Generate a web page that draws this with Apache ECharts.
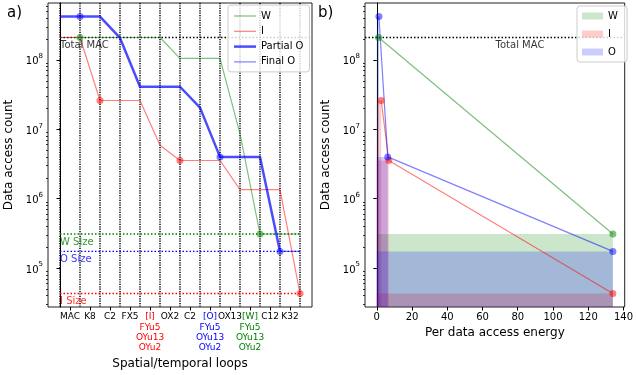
<!DOCTYPE html>
<html>
<head>
<meta charset="utf-8">
<script src="https://cdn.jsdelivr.net/npm/echarts@6/dist/echarts.min.js"></script>
<style>
  html, body { margin: 0; padding: 0; background: #fff; }
  #chart { width: 636px; height: 375px; }
</style>
</head>
<body>
<div id="chart"></div>
<script>
// ---- left panel: loop boundaries 0..12, labels sit between them
var loopLabels = ['MAC', 'K8', 'C2', 'FX5', '[I]\nFYu5\nOYu13\nOYu2', 'OX2', 'C2',
                  '[O]\nFYu5\nOYu13\nOYu2', 'OX13', '[W]\nFYu5\nOYu13\nOYu2', 'C12', 'K32'];
var loopLabelColors = ['#000', '#000', '#000', '#000', '#ff0000', '#000', '#000',
                       '#0000ff', '#000', '#008000', '#000', '#000'];

var wCount   = [2.1e8, 2.1e8, 2.1e8, 2.1e8, 2.1e8, 2.1e8, 1.05e8, 1.05e8, 1.05e8, 8.6e6, 3.1e5, 3.1e5, 3.1e5];
var iCount   = [2.1e8, 2.1e8, 2.6e7, 2.6e7, 2.6e7, 5.9e6, 3.55e6, 3.55e6, 3.55e6, 1.35e6, 1.35e6, 1.35e6, 4.3e4];
var partialO = [4.2e8, 4.2e8, 4.2e8, 2.07e8, 4.1e7, 4.1e7, 4.1e7, 2.05e7, 4.0e6, 4.0e6, 4.0e6, 1.74e5];
var finalOIdx = [11, 12];
var finalO   = [1.74e5, 1.74e5];

var wMarkIdx = [1, 10];
var iMarkIdx = [2, 6, 12];
var oMarkIdx = [1, 8, 11];

var totalMAC = 2.1e8;
var wSize = 3.1e5;
var oSize = 1.74e5;
var iSize = 4.3e4;

// ---- right panel: per data access energy of each level
var wEnergy = [1.0, 134];
var iEnergy = [2.5, 6.8, 134];
var oEnergy = [1.2, 6.2, 134];

// axis ranges / ticks
var yMin = 2.75e4, yMax = 6.6e8;
var yMajor = [1e5, 1e6, 1e7, 1e8];
var yMinor = [];
for (var d = 4; d <= 8; d++) {
  for (var m = 2; m <= 9; m++) {
    var v = m * Math.pow(10, d);
    if (v > yMin && v < yMax) yMinor.push(v);
  }
}
var xEnergyTicks = [0, 20, 40, 60, 80, 100, 120, 140];

var FONT = 'DejaVu Sans';
var GREEN = 'rgba(0,128,0,0.5)', RED = 'rgba(255,0,0,0.5)', BLUE = 'rgba(0,0,255,0.5)';
var BLUE_THICK = 'rgba(0,0,255,0.7)';

function pairs(xs, ys) {
  return xs.map(function (x, k) { return [x, ys[k]]; });
}
function idxPairs(ys) {
  return ys.map(function (y, k) { return [k, y]; });
}
function marks(idx, ys) {
  return idx.map(function (k) { return [k, ys[k]]; });
}
var wRight = marks(wMarkIdx, wCount).map(function (p, k) { return [wEnergy[k], p[1]]; });
var iRight = marks(iMarkIdx, iCount).map(function (p, k) { return [iEnergy[k], p[1]]; });
var oRight = marks(oMarkIdx, partialO).map(function (p, k) { return [oEnergy[k], p[1]]; });

function logAxes(gridIndex, name) {
  var major = {
    type: 'log', gridIndex: gridIndex, position: 'left', min: yMin, max: yMax, logBase: 10,
    name: name, nameLocation: 'middle', nameGap: 33,
    nameTextStyle: { fontFamily: FONT, fontSize: 12, color: '#000' },
    axisLine: { show: true, lineStyle: { color: '#000', width: 1 } },
    axisTick: { show: true, length: 3.5, lineStyle: { color: '#000' }, customValues: yMajor },
    axisLabel: {
      customValues: yMajor, margin: 5, color: '#000', fontFamily: FONT,
      formatter: function (v) { return '{b|10}{s|' + Math.round(Math.log10(v)) + '}'; },
      rich: {
        b: { fontFamily: FONT, fontSize: 10, color: '#000', lineHeight: 14, verticalAlign: 'bottom' },
        s: { fontFamily: FONT, fontSize: 7, color: '#000', lineHeight: 14, verticalAlign: 'top', padding: [0, 0, 5, 0] }
      }
    },
    splitLine: { show: false }, minorTick: { show: false }
  };
  var minor = {
    type: 'log', gridIndex: gridIndex, position: 'left', offset: 0, min: yMin, max: yMax, logBase: 10,
    axisLine: { show: false },
    axisTick: { show: true, length: 2, lineStyle: { color: '#000', width: 0.8 }, customValues: yMinor },
    axisLabel: { show: false, customValues: yMinor },
    splitLine: { show: false }
  };
  return [major, minor];
}

var leftY = logAxes(0, 'Data access count');
var rightY = logAxes(2, 'Data access count');

function textPoint(xAxisIndex, yAxisIndex, x, y, text, color) {
  return {
    type: 'scatter', xAxisIndex: xAxisIndex, yAxisIndex: yAxisIndex, symbolSize: 0, silent: true, z: 6,
    data: [[x, y]],
    label: { show: true, formatter: text, position: [0, 3], align: 'left', verticalAlign: 'top',
             fontFamily: FONT, fontSize: 10, color: color }
  };
}

function shadeItem(color) {
  return function (params, api) {
    var base = api.coord([0, yMin]);
    var top = api.coord([api.value(0), api.value(1)]);
    return {
      type: 'rect',
      shape: { x: base[0], y: top[1], width: top[0] - base[0], height: base[1] - top[1] },
      style: { fill: color }
    };
  };
}

var option = {
  animation: false,
  backgroundColor: '#fff',
  textStyle: { fontFamily: FONT },
  grid: [
    { left: 48, top: 3, width: 264, height: 304, show: true, borderColor: '#222', borderWidth: 1, backgroundColor: 'transparent', containLabel: false },
    { left: 60, top: 3, width: 240, height: 304, show: false, containLabel: false },
    { left: 365, top: 3, width: 263, height: 304, show: true, borderColor: '#222', borderWidth: 1, backgroundColor: 'transparent', containLabel: false }
  ],
  xAxis: [
    { type: 'value', gridIndex: 0, min: -0.6, max: 12.6,
      axisLine: { show: false }, axisTick: { show: false }, axisLabel: { show: false }, splitLine: { show: false } },
    { type: 'category', gridIndex: 1, data: loopLabels.map(function (t, k) {
        return { value: t, textStyle: { color: loopLabelColors[k] } };
      }),
      name: 'Spatial/temporal loops', nameLocation: 'middle', nameGap: 50,
      nameTextStyle: { fontFamily: FONT, fontSize: 12, color: '#000' },
      axisLine: { show: false },
      axisTick: { show: true, alignWithLabel: true, length: 3.5, lineStyle: { color: '#000' } },
      axisLabel: { interval: 0, margin: 5, fontFamily: FONT, fontSize: 9, lineHeight: 10.3, verticalAlign: 'top', hideOverlap: false },
      splitLine: { show: true, lineStyle: { color: '#000', width: 1.5, type: [1.2, 1.2] } } },
    { type: 'value', gridIndex: 2, min: -6.7, max: 140.7,
      name: 'Per data access energy', nameLocation: 'middle', nameGap: 19,
      nameTextStyle: { fontFamily: FONT, fontSize: 12, color: '#000' },
      axisLine: { show: false },
      axisTick: { show: true, length: 3.5, lineStyle: { color: '#000' }, customValues: xEnergyTicks },
      axisLabel: { customValues: xEnergyTicks, margin: 5, fontFamily: FONT, fontSize: 10, color: '#000' },
      splitLine: { show: false } }
  ],
  yAxis: [
    leftY[0], leftY[1],
    { type: 'value', gridIndex: 1, show: false },
    rightY[0], rightY[1]
  ],
  legend: [
    { orient: 'vertical', left: 228, top: 5, padding: [6, 6, 5, 6], itemWidth: 22, itemHeight: 10, itemGap: 5.3,
      backgroundColor: 'rgba(255,255,255,0.8)', borderColor: '#ccc', borderWidth: 1, borderRadius: 3,
      textStyle: { fontFamily: FONT, fontSize: 10, color: '#000' }, symbolKeepAspect: true,
      data: [
        { name: 'W', icon: 'path://M0,0H22V1.2H0Z', itemStyle: { color: GREEN } },
        { name: 'I', icon: 'path://M0,0H22V1.2H0Z', itemStyle: { color: RED } },
        { name: 'Partial O', icon: 'path://M0,0H22V2.5H0Z', itemStyle: { color: BLUE_THICK } },
        { name: 'Final O', icon: 'path://M0,0H22V1.2H0Z', itemStyle: { color: BLUE } }
      ] },
    { orient: 'vertical', left: 577, top: 6, padding: [5, 6, 5, 5], itemWidth: 21, itemHeight: 7, itemGap: 8,
      backgroundColor: 'rgba(255,255,255,0.8)', borderColor: '#ccc', borderWidth: 1, borderRadius: 3,
      textStyle: { fontFamily: FONT, fontSize: 10, color: '#000' },
      data: [
        { name: 'W ', icon: 'rect', itemStyle: { color: 'rgba(0,128,0,0.2)' } },
        { name: 'I ', icon: 'rect', itemStyle: { color: 'rgba(255,0,0,0.2)' } },
        { name: 'O ', icon: 'rect', itemStyle: { color: 'rgba(0,0,255,0.2)' } }
      ] }
  ],
  graphic: [
    { type: 'text', left: 7, top: 6, style: { text: 'a)', fontFamily: FONT, fontSize: 15, fill: '#000' } },
    { type: 'text', left: 318, top: 6, style: { text: 'b)', fontFamily: FONT, fontSize: 15, fill: '#000' } }
  ],
  series: [
    // left: reference levels
    { type: 'line', xAxisIndex: 0, yAxisIndex: 0, symbol: 'none', silent: true, z: 3,
      data: [[0, totalMAC], [12.6, totalMAC]], lineStyle: { color: '#000', width: 1.4, type: [1.5, 2] } },
    { type: 'line', xAxisIndex: 0, yAxisIndex: 0, symbol: 'none', silent: true, z: 3,
      data: [[0, wSize], [12, wSize]], lineStyle: { color: '#008000', width: 1.4, type: [1.5, 2] } },
    { type: 'line', xAxisIndex: 0, yAxisIndex: 0, symbol: 'none', silent: true, z: 3,
      data: [[0, oSize], [12, oSize]], lineStyle: { color: '#0000ff', width: 1.4, type: [1.5, 2] } },
    { type: 'line', xAxisIndex: 0, yAxisIndex: 0, symbol: 'none', silent: true, z: 3,
      data: [[0, iSize], [12, iSize]], lineStyle: { color: '#ff0000', width: 1.4, type: [1.5, 2] } },
    textPoint(0, 0, 0, totalMAC, 'Total MAC', '#000'),
    textPoint(0, 0, 0, wSize, 'W Size', '#008000'),
    textPoint(0, 0, 0, oSize, 'O Size', '#0000ff'),
    textPoint(0, 0, 0, iSize, 'I Size', '#ff0000'),
    // left: access count per loop
    { name: 'W', type: 'line', xAxisIndex: 0, yAxisIndex: 0, symbol: 'none', z: 4,
      data: idxPairs(wCount), lineStyle: { color: GREEN, width: 1.2 }, itemStyle: { color: GREEN } },
    { name: 'I', type: 'line', xAxisIndex: 0, yAxisIndex: 0, symbol: 'none', z: 4,
      data: idxPairs(iCount), lineStyle: { color: RED, width: 1.2 }, itemStyle: { color: RED } },
    { name: 'Partial O', type: 'line', xAxisIndex: 0, yAxisIndex: 0, symbol: 'none', z: 4,
      data: idxPairs(partialO), lineStyle: { color: BLUE_THICK, width: 2.5 }, itemStyle: { color: BLUE_THICK } },
    { name: 'Final O', type: 'line', xAxisIndex: 0, yAxisIndex: 0, symbol: 'none', z: 4,
      data: pairs(finalOIdx, finalO), lineStyle: { color: BLUE, width: 1.2 }, itemStyle: { color: BLUE } },
    { type: 'scatter', xAxisIndex: 0, yAxisIndex: 0, symbolSize: 7, z: 5, silent: true,
      data: marks(wMarkIdx, wCount), itemStyle: { color: GREEN, opacity: 1 } },
    { type: 'scatter', xAxisIndex: 0, yAxisIndex: 0, symbolSize: 7, z: 5, silent: true,
      data: marks(iMarkIdx, iCount), itemStyle: { color: RED, opacity: 1 } },
    { type: 'scatter', xAxisIndex: 0, yAxisIndex: 0, symbolSize: 7, z: 5, silent: true,
      data: marks(oMarkIdx, partialO), itemStyle: { color: BLUE, opacity: 1 } },

    // right: shaded areas (count x energy)
    { name: 'W ', type: 'custom', xAxisIndex: 2, yAxisIndex: 3, z: 2, silent: true,
      data: wRight, renderItem: shadeItem('rgba(0,128,0,0.2)'), itemStyle: { color: 'rgba(0,128,0,0.2)' } },
    { name: 'I ', type: 'custom', xAxisIndex: 2, yAxisIndex: 3, z: 2, silent: true,
      data: iRight, renderItem: shadeItem('rgba(255,0,0,0.2)'), itemStyle: { color: 'rgba(255,0,0,0.2)' } },
    { name: 'O ', type: 'custom', xAxisIndex: 2, yAxisIndex: 3, z: 2, silent: true,
      data: oRight, renderItem: shadeItem('rgba(0,0,255,0.2)'), itemStyle: { color: 'rgba(0,0,255,0.2)' } },
    { type: 'line', xAxisIndex: 2, yAxisIndex: 3, symbol: 'none', silent: true, z: 3,
      data: [[-6.7, totalMAC], [140.7, totalMAC]], lineStyle: { color: '#000', width: 1.4, type: [1.5, 2] } },
    textPoint(2, 3, 67.4, totalMAC, 'Total MAC', '#000'),
    { type: 'line', xAxisIndex: 2, yAxisIndex: 3, symbol: 'circle', symbolSize: 7, z: 4, silent: true,
      data: wRight, lineStyle: { color: GREEN, width: 1.2 }, itemStyle: { color: GREEN } },
    { type: 'line', xAxisIndex: 2, yAxisIndex: 3, symbol: 'circle', symbolSize: 7, z: 4, silent: true,
      data: iRight, lineStyle: { color: RED, width: 1.2 }, itemStyle: { color: RED } },
    { type: 'line', xAxisIndex: 2, yAxisIndex: 3, symbol: 'circle', symbolSize: 7, z: 4, silent: true,
      data: oRight, lineStyle: { color: BLUE, width: 1.2 }, itemStyle: { color: BLUE } }
  ]
};

var myChart = echarts.init(document.getElementById('chart'), null, { renderer: 'canvas' });
myChart.setOption(option);
</script>
</body>
</html>
